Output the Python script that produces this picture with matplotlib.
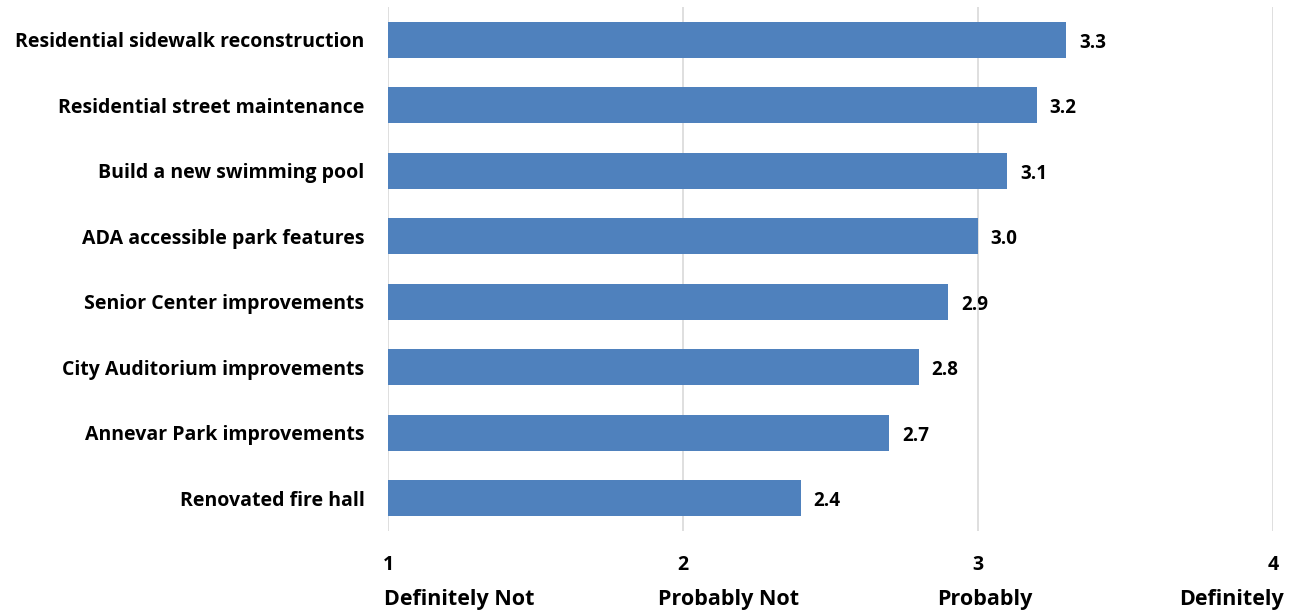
import matplotlib
matplotlib.use('Agg')
import matplotlib.pyplot as plt

categories = [
    'Residential sidewalk reconstruction',
    'Residential street maintenance',
    'Build a new swimming pool',
    'ADA accessible park features',
    'Senior Center improvements',
    'City Auditorium improvements',
    'Annevar Park improvements',
    'Renovated fire hall',
]
scores = [3.3, 3.2, 3.1, 3.0, 2.9, 2.8, 2.7, 2.4]
tick_values = [1, 2, 3, 4]
tick_words = ['Definitely Not', 'Probably Not', 'Probably', 'Definitely']
# horizontal centre of each wording under its tick, in data units
word_centres = [1.24, 2.154, 3.024, 3.859]

plt.rcParams['font.family'] = ['Open Sans', 'DejaVu Sans']
plt.rcParams['font.weight'] = 'bold'

fig = plt.figure(figsize=(12.93, 6.13), dpi=100)
ax = fig.add_axes([0.3001, 0.1338, 0.6844, 0.8548])

bar_color = '#4f81bd'
ypos = list(range(len(categories)))
ax.barh(ypos, scores, left=0, height=0.55, color=bar_color, zorder=2)

# value labels just right of each bar end
for y, v in zip(ypos, scores):
    ax.annotate(f'{v:.1f}', xy=(v, y), xytext=(9, -2), textcoords='offset points',
                ha='left', va='center', fontsize=13.5, fontweight='bold', color='black')

ax.set_xlim(1, 4)
ax.set_ylim(len(categories) - 0.5, -0.5)
ax.set_yticks(ypos)
ax.set_yticklabels(categories, fontsize=14, fontweight='bold')
ax.tick_params(axis='y', length=0, pad=17)

ax.set_xticks(tick_values)
ax.set_xticklabels([str(t) for t in tick_values], fontsize=14, fontweight='bold')
ax.tick_params(axis='x', length=0, pad=17)
ax.grid(axis='x', color='#d9d9d9', linewidth=1.2, zorder=0)
ax.set_axisbelow(True)

# wording under the numeric ticks
for x, w in zip(word_centres, tick_words):
    ax.text(x, -0.13, w, transform=ax.get_xaxis_transform(), ha='center', va='center',
            fontsize=15.5, fontweight='bold', color='black')

for s in ax.spines.values():
    s.set_visible(False)

fig.savefig('out.png', dpi=100, facecolor='white')
